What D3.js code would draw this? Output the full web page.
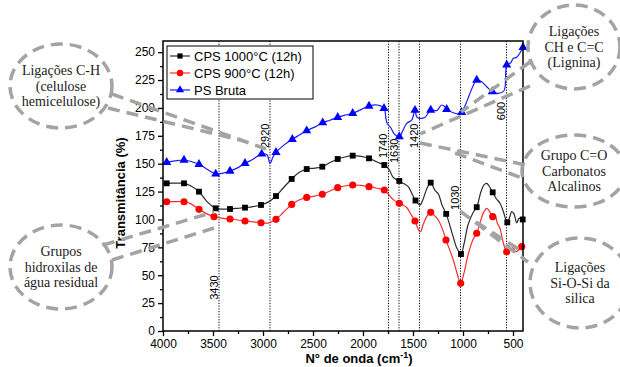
<!DOCTYPE html>
<html>
<head>
<meta charset="utf-8">
<script src="https://cdn.jsdelivr.net/npm/d3@7"></script>
<style>
  body { margin: 0; background: #fff; }
  svg { display: block; }
</style>
</head>
<body>
<svg id="chart" width="620" height="367"></svg>
<script>
// --- data (wavenumber, transmittance, marker flag) ---
const seriesNames = ['CPS 1000°C (12h)', 'CPS 900°C (12h)', 'PS Bruta'];

const cps1000 = [
  [4000,132,0],[3963,132.4,1],[3880,132.5,0],[3790,132.4,1],[3720,130,0],[3640,124.9,1],
  [3560,116,0],[3473,110,1],[3400,109.2,0],[3330,109.4,1],[3250,110,0],[3180,110.6,1],
  [3100,111.5,0],[3020,113,1],[2940,116,0],[2870,121,1],[2800,128,0],[2713,136.3,1],
  [2640,142,0],[2563,145.2,1],[2480,146,0],[2407,147.3,1],[2330,151,0],[2253,154.2,1],
  [2180,156,0],[2103,157.2,1],[2020,156.5,0],[1940,154.8,1],[1860,151.5,0],[1787,148.8,1],
  [1740,145,0],[1700,138,0],[1637,134.5,1],[1590,132,0],[1547,129.4,0],[1510,123,0],
  [1475,117,1],[1430,113,0],[1400,118,0],[1360,128,0],[1323,133,1],[1280,126,0],
  [1247,123,0],[1210,113,0],[1168,105,1],[1100,85,0],[1060,74,0],[1020,69,1],[990,78,0],
  [950,95,0],[900,106,0],[863,111,1],[820,125,0],[790,131,0],[763,132.4,0],[740,130,0],
  [703,124.3,1],[670,119,0],[630,114.5,0],[600,108,0],[557,97.4,1],[530,103,0],[513,107,0],
  [490,105,0],[463,97,0],[440,101,0],[403,100,1]
];

const cps900 = [
  [4000,115,0],[3963,115.9,1],[3880,116,0],[3790,115.9,1],[3720,114,0],[3640,109.1,1],
  [3560,105,0],[3490,102.5,1],[3400,101,0],[3330,100.4,1],[3250,99.5,0],[3180,98.6,1],
  [3100,97.8,0],[3020,97.1,1],[2940,97,0],[2870,100.1,1],[2800,106,0],[2713,113.5,1],
  [2640,117.5,0],[2563,119.8,1],[2480,121,0],[2407,122.6,1],[2330,125.5,0],[2253,128.5,1],
  [2180,130,0],[2103,130.9,1],[2020,130.5,0],[1940,129.4,1],[1860,128,0],[1787,126.4,1],
  [1740,122,0],[1700,118,0],[1637,114.5,1],[1600,113,0],[1560,110.5,0],[1530,106,0],
  [1480,98.6,1],[1440,90,0],[1423,89,0],[1400,95,0],[1360,103,0],[1323,106.4,1],[1280,103,0],
  [1247,99.5,0],[1200,90,0],[1170,81.6,1],[1097,63.7,0],[1060,52,0],[1023,42.8,1],[990,52,0],
  [950,68,0],[900,82,0],[863,87.6,1],[820,100,0],[790,107,0],[763,110,0],[740,108,0],
  [703,102.5,1],[680,104,0],[657,96.6,0],[630,92,0],[600,80,0],[563,71.1,1],[530,78.6,0],
  [500,75,0],[470,71.1,0],[440,73,0],[413,75.6,1],[400,76,0]
];

const psBruta = [
  [4000,150.5,0],[3963,151.2,1],[3880,152.5,0],[3790,153.3,1],[3720,152,0],[3640,149.5,1],
  [3560,145,0],[3473,140.8,1],[3400,141.5,0],[3330,143.4,1],[3250,146.5,0],[3180,150.3,1],
  [3100,154,0],[3013,158.7,1],[2960,158,0],[2930,150.3,0],[2900,156,0],[2870,160.2,1],
  [2800,166,0],[2707,171.8,1],[2640,175.5,0],[2563,179.6,1],[2480,183,0],[2403,186.8,1],
  [2330,189,0],[2253,191.6,1],[2180,193.5,0],[2103,195.2,1],[2020,198.5,0],[1940,201.7,1],
  [1857,202.6,0],[1790,199.7,1],[1770,190,0],[1757,186,0],[1720,182,0],[1690,177,0],
  [1637,174.2,1],[1600,180,0],[1563,186.2,0],[1513,189,0],[1480,198,1],[1463,192,0],
  [1437,190.7,0],[1380,191.6,0],[1323,198.1,1],[1263,197.6,0],[1213,202.6,0],[1180,201,0],
  [1163,198.7,1],[1097,195.7,0],[1030,194.6,0],[1013,196,1],[970,204,0],[937,211.6,0],
  [903,219,0],[863,225,1],[813,223.5,0],[763,219,0],[707,214.6,1],[647,213,0],[590,215.4,0],
  [573,231,0],[563,238.5,1],[523,240.5,0],[497,244.5,0],[463,245.4,0],[423,250.4,0],[400,254.4,1]
];

const xTicks = [4000, 3500, 3000, 2500, 2000, 1500, 1000, 500];
const yTicks = [0, 25, 50, 75, 100, 125, 150, 175, 200, 225, 250];

// dotted band markers
const bandPositions = [3440, 2930, 1745, 1640, 1435, 1025, 565];
const bandLabels = ['3430', '2920', '1740', '1630', '1420', '1030', '600'];
const bandLabelBase = [28, 164, 155, 150.6, 164, 108.5, 189];

// callouts
const calloutTexts = [
  ['Ligações C-H', '(celulose', 'hemicelulose)'],
  ['Grupos', 'hidroxilas de', 'água residual'],
  ['Ligações', 'CH e C=C', '(Lignina)'],
  ['Grupo C=O', 'Carbonatos', 'Alcalinos'],
  ['Ligações', 'Si-O-Si da', 'silica']
];

// --- layout ---
const plot = { left: 163, right: 523, top: 41, bottom: 331 };
const calloutShapes = [
  { cx: 61, cy: 86, rx: 51, ry: 42, lines: [[112, 94, 266, 149], [108, 108, 240, 140]] },
  { cx: 61, cy: 267, rx: 51, ry: 42, lines: [[103, 245, 214, 212], [112, 260, 214, 228]] },
  { cx: 574, cy: 47, rx: 46, ry: 42, lines: [[530, 62, 461, 112], [530, 86, 420, 134]] },
  { cx: 574, cy: 171, rx: 52, ry: 36, lines: [[420, 143, 526, 165], [455, 153, 522, 178]] },
  { cx: 580, cy: 283, rx: 50, ry: 45, lines: [[460, 211, 528, 262], [476, 222, 520, 250]] }
];

const svg = d3.select('#chart');

const x = d3.scaleLinear().domain([4000, 400]).range([plot.left, plot.right]);
const y = d3.scaleLinear().domain([0, 260]).range([plot.bottom, plot.top]);

const g = svg.append('g');

// vertical dotted band lines
g.selectAll('.band')
  .data(bandPositions)
  .enter().append('line')
  .attr('x1', d => x(d)).attr('x2', d => x(d))
  .attr('y1', plot.top).attr('y2', plot.bottom)
  .attr('stroke', '#000')
  .attr('stroke-width', 1)
  .attr('stroke-dasharray', '1.2,1.5');

g.selectAll('.band-label')
  .data(bandLabels)
  .enter().append('text')
  .attr('transform', (d, i) => 'translate(' + (x(bandPositions[i]) - 1.5) + ',' + y(bandLabelBase[i]) + ') rotate(-90)')
  .attr('font-family', 'Liberation Sans, Arial, sans-serif')
  .attr('font-size', 11)
  .attr('fill', '#000')
  .text(d => d);

// axes
const axisX = d3.axisBottom(x).tickValues(xTicks).tickSize(5).tickPadding(3).tickFormat(d3.format('d'));
const axisXMinor = d3.axisBottom(x).tickValues(d3.range(3750, 400, -500)).tickSize(3).tickFormat('');
const axisY = d3.axisLeft(y).tickValues(yTicks).tickSize(5).tickPadding(3);
const axisYMinor = d3.axisLeft(y).tickValues(d3.range(12.5, 260, 25)).tickSize(3).tickFormat('');

function styleAxis(sel) {
  sel.select('.domain').remove();
  sel.selectAll('line').attr('stroke', '#000').attr('stroke-width', 1.3);
  sel.selectAll('text')
    .attr('font-family', 'Liberation Sans, Arial, sans-serif')
    .attr('font-size', 12)
    .attr('fill', '#000');
}

g.append('g').attr('transform', 'translate(0,' + plot.bottom + ')').call(axisX).call(styleAxis);
g.append('g').attr('transform', 'translate(0,' + plot.bottom + ')').call(axisXMinor).call(styleAxis);
g.append('g').attr('transform', 'translate(' + plot.left + ',0)').call(axisY).call(styleAxis);
g.append('g').attr('transform', 'translate(' + plot.left + ',0)').call(axisYMinor).call(styleAxis);

// series
const series = [
  { data: cps1000, line: '#2b2b2b', mark: '#000', symbol: d3.symbolSquare, size: 34 },
  { data: cps900, line: '#ff2a2a', mark: '#ff0000', symbol: d3.symbolCircle, size: 40 },
  { data: psBruta, line: '#1a1aff', mark: '#0000ff', symbol: d3.symbolTriangle, size: 36 }
];

const line = d3.line()
  .x(d => x(d[0]))
  .y(d => y(d[1]))
  .curve(d3.curveCatmullRom.alpha(0.5));

series.forEach(s => {
  g.append('path')
    .datum(s.data)
    .attr('fill', 'none')
    .attr('stroke', s.line)
    .attr('stroke-width', 1.2)
    .attr('d', line);
  g.selectAll(null)
    .data(s.data.filter(d => d[2]))
    .enter().append('path')
    .attr('transform', d => 'translate(' + x(d[0]) + ',' + y(d[1]) + ')')
    .attr('d', d3.symbol().type(s.symbol).size(s.size))
    .attr('fill', s.mark);
});

// frame
g.append('rect')
  .attr('x', plot.left).attr('y', plot.top)
  .attr('width', plot.right - plot.left).attr('height', plot.bottom - plot.top)
  .attr('fill', 'none').attr('stroke', '#000').attr('stroke-width', 1.5);

// legend
const legend = g.append('g').attr('transform', 'translate(167,46)');
legend.append('rect')
  .attr('width', 146).attr('height', 53)
  .attr('fill', '#fff').attr('stroke', '#000').attr('stroke-width', 1);
series.forEach((s, i) => {
  const ly = 10 + i * 17;
  legend.append('line')
    .attr('x1', 3).attr('x2', 23).attr('y1', ly).attr('y2', ly)
    .attr('stroke', s.line).attr('stroke-width', 1.2);
  legend.append('path')
    .attr('transform', 'translate(13,' + ly + ')')
    .attr('d', d3.symbol().type(s.symbol).size(s.size * 0.8))
    .attr('fill', s.mark);
  legend.append('text')
    .attr('x', 27).attr('y', ly + 4.5)
    .attr('font-family', 'Liberation Sans, Arial, sans-serif')
    .attr('font-size', 13)
    .attr('fill', '#000')
    .text(seriesNames[i]);
});

// axis titles
svg.append('text')
  .attr('transform', 'translate(125,193) rotate(-90)')
  .attr('text-anchor', 'middle')
  .attr('font-family', 'Liberation Sans, Arial, sans-serif')
  .attr('font-size', 13).attr('font-weight', 'bold')
  .text('Transmitância (%)');

const xt = svg.append('text')
  .attr('x', 359).attr('y', 363)
  .attr('text-anchor', 'middle')
  .attr('font-family', 'Liberation Sans, Arial, sans-serif')
  .attr('font-size', 13).attr('font-weight', 'bold');
xt.append('tspan').text('N° de onda (cm');
xt.append('tspan').attr('font-size', 9).attr('dy', -5).text('-1');
xt.append('tspan').attr('dy', 5).text(')');

// callouts
const ann = svg.append('g');
calloutShapes.forEach((c, i) => {
  ann.append('ellipse')
    .attr('cx', c.cx).attr('cy', c.cy).attr('rx', c.rx).attr('ry', c.ry)
    .attr('fill', 'none').attr('stroke', '#a3a3a3')
    .attr('stroke-width', 3.5).attr('stroke-dasharray', '12,7');
  c.lines.forEach(l => {
    ann.append('line')
      .attr('x1', l[0]).attr('y1', l[1]).attr('x2', l[2]).attr('y2', l[3])
      .attr('stroke', '#a3a3a3').attr('stroke-width', 3.5).attr('stroke-dasharray', '12,7');
  });
  ann.append('text')
    .attr('x', c.cx).attr('y', c.cy - 11)
    .attr('text-anchor', 'middle')
    .attr('font-family', 'Liberation Serif, Times New Roman, serif')
    .attr('font-size', 14)
    .attr('fill', '#222')
    .selectAll('tspan')
    .data(calloutTexts[i])
    .enter().append('tspan')
    .attr('x', c.cx)
    .attr('dy', (d, j) => j === 0 ? 0 : 15.5)
    .text(d => d);
});
</script>
</body>
</html>
